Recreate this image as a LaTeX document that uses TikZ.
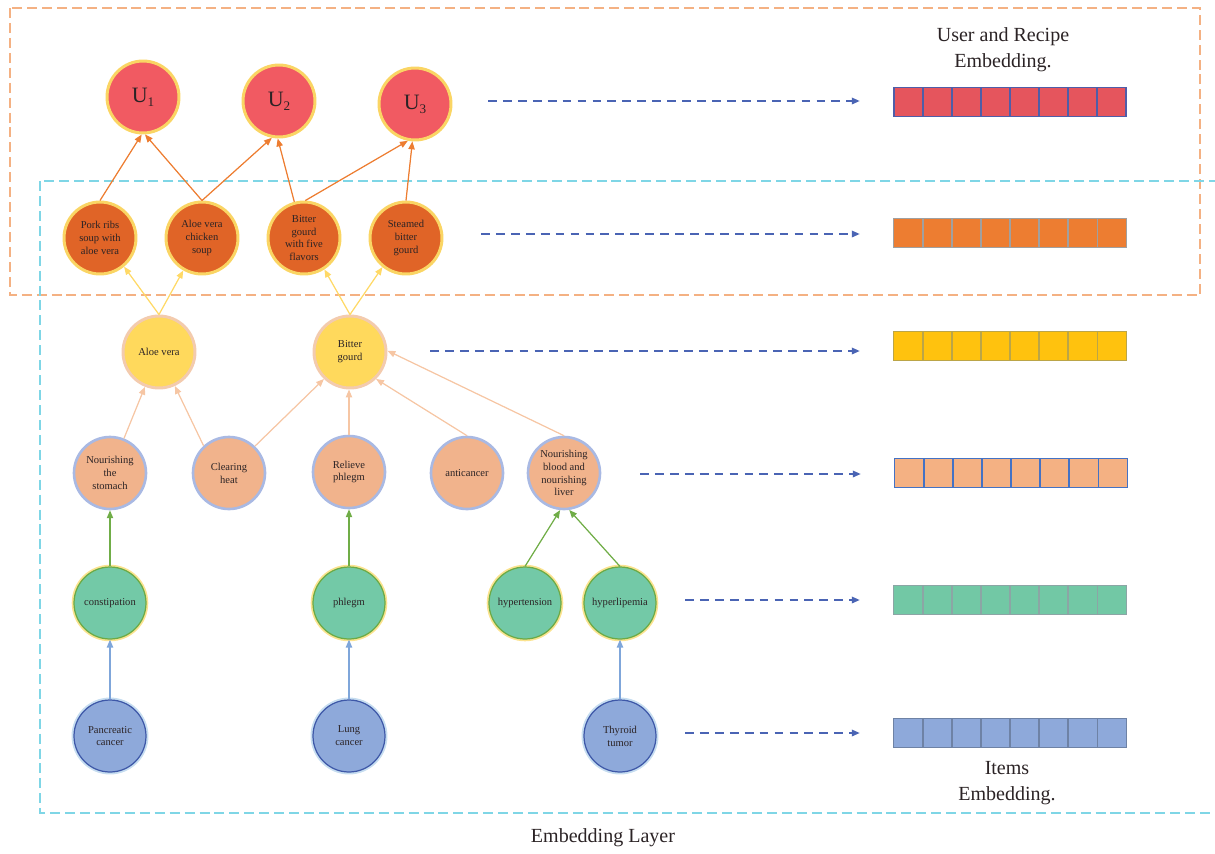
\documentclass[tikz,border=0pt]{standalone}
\usepackage{fontspec}
\setmainfont{Liberation Serif}
\usetikzlibrary{arrows.meta,calc}
\definecolor{ured}{HTML}{F15A62}
\definecolor{uyel}{HTML}{FAD564}
\definecolor{recfill}{HTML}{E06427}
\definecolor{yelfill}{HTML}{FFD95C}
\definecolor{yelborder}{HTML}{F3CBAE}
\definecolor{peachfill}{HTML}{F1B38C}
\definecolor{peachborder}{HTML}{A9B9E3}
\definecolor{gfill}{HTML}{73C9A7}
\definecolor{gline}{HTML}{6CAA45}
\definecolor{gouter}{HTML}{FBE38F}
\definecolor{bfill}{HTML}{8EA9DA}
\definecolor{bline}{HTML}{3E58A8}
\definecolor{bouter}{HTML}{C6DDF0}
\definecolor{txt}{HTML}{2B2325}
\definecolor{orarr}{HTML}{ED7D31}
\definecolor{yelarr}{HTML}{FFD966}
\definecolor{peacharr}{HTML}{F6C6A4}
\definecolor{greenarr}{HTML}{70AD47}
\definecolor{bluearr}{HTML}{7FA6DA}
\definecolor{dasharr}{HTML}{4A64B4}
\definecolor{cyanbox}{HTML}{7FD6E6}
\definecolor{orbox}{HTML}{F4B183}
\newcommand{\usub}[1]{U\raisebox{-2.4pt}{\fontsize{7.5}{7.5}\selectfont #1}}
\tikzset{
  base/.style={circle, minimum size=1.44cm, inner sep=0pt, align=center, text=txt,
    font=\fontsize{6}{7.3}\selectfont},
  unode/.style={base, fill=ured, draw=uyel, line width=1.7pt, font=\fontsize{12.5}{13}\selectfont},
  recnode/.style={base, fill=recfill, draw=uyel, line width=1.7pt},
  yelnode/.style={base, fill=yelfill, draw=yelborder, line width=1.7pt},
  peachnode/.style={base, fill=peachfill, draw=peachborder, line width=1.5pt},
  gnode/.style={base, fill=gfill, draw=gline, line width=0.7pt, preaction={draw=gouter, line width=2.6pt}},
  bnode/.style={base, fill=bfill, draw=bline, line width=0.7pt, preaction={draw=bouter, line width=2.8pt}},
  edge/.style={line width=0.7pt, -{Triangle[length=4.5pt,width=3.6pt]}},
  oedge/.style={edge, draw=orarr, fill=orarr},
  yedge/.style={edge, draw=yelarr, fill=yelarr},
  pedge/.style={edge, draw=peacharr, fill=peacharr},
  gedge/.style={edge, draw=greenarr, fill=greenarr},
  bedge/.style={edge, draw=bluearr, fill=bluearr},
  darr/.style={draw=dasharr, line width=0.75pt, dash pattern=on 5pt off 3.5pt,
    -{Triangle[length=4.5pt,width=3.8pt]}, shorten >=0.68cm},
  barnode/.style={rectangle, minimum width=4.64cm, minimum height=0.57cm, inner sep=0pt},
  lbl/.style={text=txt, align=center, font=\fontsize{11.4}{14.6}\selectfont}
}
\begin{document}
\begin{tikzpicture}[x=0.02cm,y=-0.02cm]
\useasboundingbox (0,0) rectangle (1215,853);
% dashed boxes
\draw[orbox, line width=0.7pt, dash pattern=on 5.7pt off 2.8pt] (10,8) rectangle (1200,295);
\draw[cyanbox, line width=0.8pt, dash pattern=on 5.7pt off 2.8pt] (40,181) rectangle (1222,813);

% nodes
\node[unode] (u1) at (143,97) {\usub{1}};
\node[unode] (u2) at (279,101) {\usub{2}};
\node[unode] (u3) at (415,104) {\usub{3}};

\node[recnode] (pork) at (100,238) {Pork ribs\\soup with\\aloe vera};
\node[recnode] (avcs) at (202,238) {Aloe vera\\chicken\\soup};
\node[recnode] (bg5) at (304,238) {Bitter\\gourd\\with five\\flavors};
\node[recnode] (sbg) at (406,238) {Steamed\\bitter\\gourd};

\node[yelnode] (aloe) at (159,352) {Aloe vera};
\node[yelnode] (bitter) at (350,352) {Bitter\\gourd};

\node[peachnode] (stom) at (110,473) {Nourishing\\the\\stomach};
\node[peachnode] (heat) at (229,473) {Clearing\\heat};
\node[peachnode] (relieve) at (349,472) {Relieve\\phlegm};
\node[peachnode] (anti) at (467,473) {anticancer};
\node[peachnode] (blood) at (564,473) {Nourishing\\blood and\\nourishing\\liver};

\node[gnode] (const) at (110,603) {constipation};
\node[gnode] (phlegm) at (349,603) {phlegm};
\node[gnode] (hyper) at (525,603) {hypertension};
\node[gnode] (hlip) at (620,603) {hyperlipemia};

\node[bnode] (panc) at (110,736) {Pancreatic\\cancer};
\node[bnode] (lung) at (349,736) {Lung\\cancer};
\node[bnode] (thy) at (620,736) {Thyroid\\tumor};

% edges to users
\draw[oedge] (pork.north) -- (u1.268);
\draw[oedge] (avcs.north) -- (u1.273);
\draw[oedge] (avcs.north) -- (u2.259);
\draw[oedge] (bg5.105) -- (u2.268);
\draw[oedge] (bg5.88) -- (u3.259);
\draw[oedge] (sbg.north) -- (u3.266);

% ingredient -> recipe
\draw[yedge] (aloe.north) -- (pork.310);
\draw[yedge] (aloe.north) -- (avcs.240);
\draw[yedge] (bitter.north) -- (bg5.303);
\draw[yedge] (bitter.north) -- (sbg.231);

% effects -> ingredients
\draw[pedge] (stom.68) -- (aloe.248);
\draw[pedge] (heat.133) -- (aloe.295);
\draw[pedge] (heat.46) -- (bitter.226);
\draw[pedge] (relieve.north) -- (relieve.north |- bitter.south);
\draw[pedge] (anti.north) -- (bitter.314);
\draw[pedge] (blood.north) -- (bitter.2);

% symptoms -> effects
\draw[gedge] (const.north) -- (stom.south);
\draw[gedge] (phlegm.north) -- (relieve.south);
\draw[gedge] (hyper.north) -- (blood.264);
\draw[gedge] (hlip.north) -- (blood.278);

% diseases -> symptoms
\draw[bedge] (panc.north) -- (const.south);
\draw[bedge] (lung.north) -- (phlegm.south);
\draw[bedge] (thy.north) -- (hlip.south);

% embedding bars
\node[barnode, fill=ured!95!black] (b1) at (1010,102) {};
\node[barnode, fill=orarr] (b2) at (1010,233) {};
\node[barnode, fill={rgb,255:red,255;green,194;blue,14}] (b3) at (1010,346) {};
\node[barnode, fill=orbox] (b4) at (1011,473) {};
\node[barnode, fill={rgb,255:red,114;green,200;blue,165}] (b5) at (1010,600) {};
\node[barnode, fill=bfill] (b6) at (1010,733) {};
\foreach \b/\c/\w in {b1/{rgb,255:red,79;green,93;blue,168}/1pt,
                      b2/{rgb,255:red,160;green,160;blue,160}/0.85pt,
                      b3/{rgb,255:red,187;green,165;blue,72}/0.85pt,
                      b4/{rgb,255:red,68;green,114;blue,196}/0.85pt,
                      b5/{rgb,255:red,140;green,165;blue,165}/0.85pt,
                      b6/{rgb,255:red,110;green,130;blue,165}/0.85pt}{
  \draw[draw=\c, line width=\w] (\b.south west) rectangle (\b.north east);
  \foreach \k in {1,...,7}{
    \draw[draw=\c, line width=\w] ($(\b.south west)!\k/8!(\b.south east)$) -- ($(\b.north west)!\k/8!(\b.north east)$);
  }
}

% dashed arrows
\coordinate (a1) at (488,101);
\coordinate (a2) at (481,234);
\coordinate (a3) at (430,351);
\coordinate (a4) at (640,474);
\coordinate (a5) at (685,600);
\coordinate (a6) at (685,733);
\draw[darr] (a1) -- (a1 -| b1.west);
\draw[darr] (a2) -- (a2 -| b2.west);
\draw[darr] (a3) -- (a3 -| b3.west);
\draw[darr] (a4) -- (a4 -| b4.west);
\draw[darr] (a5) -- (a5 -| b5.west);
\draw[darr] (a6) -- (a6 -| b6.west);

% labels
\node[lbl] (t1) at (1003,50) {User and Recipe\\Embedding.};
\node[lbl] (t2) at (1007,783) {Items\\Embedding.};
\node[lbl] (t3) at (603,838) {Embedding Layer};
\end{tikzpicture}
\end{document}
